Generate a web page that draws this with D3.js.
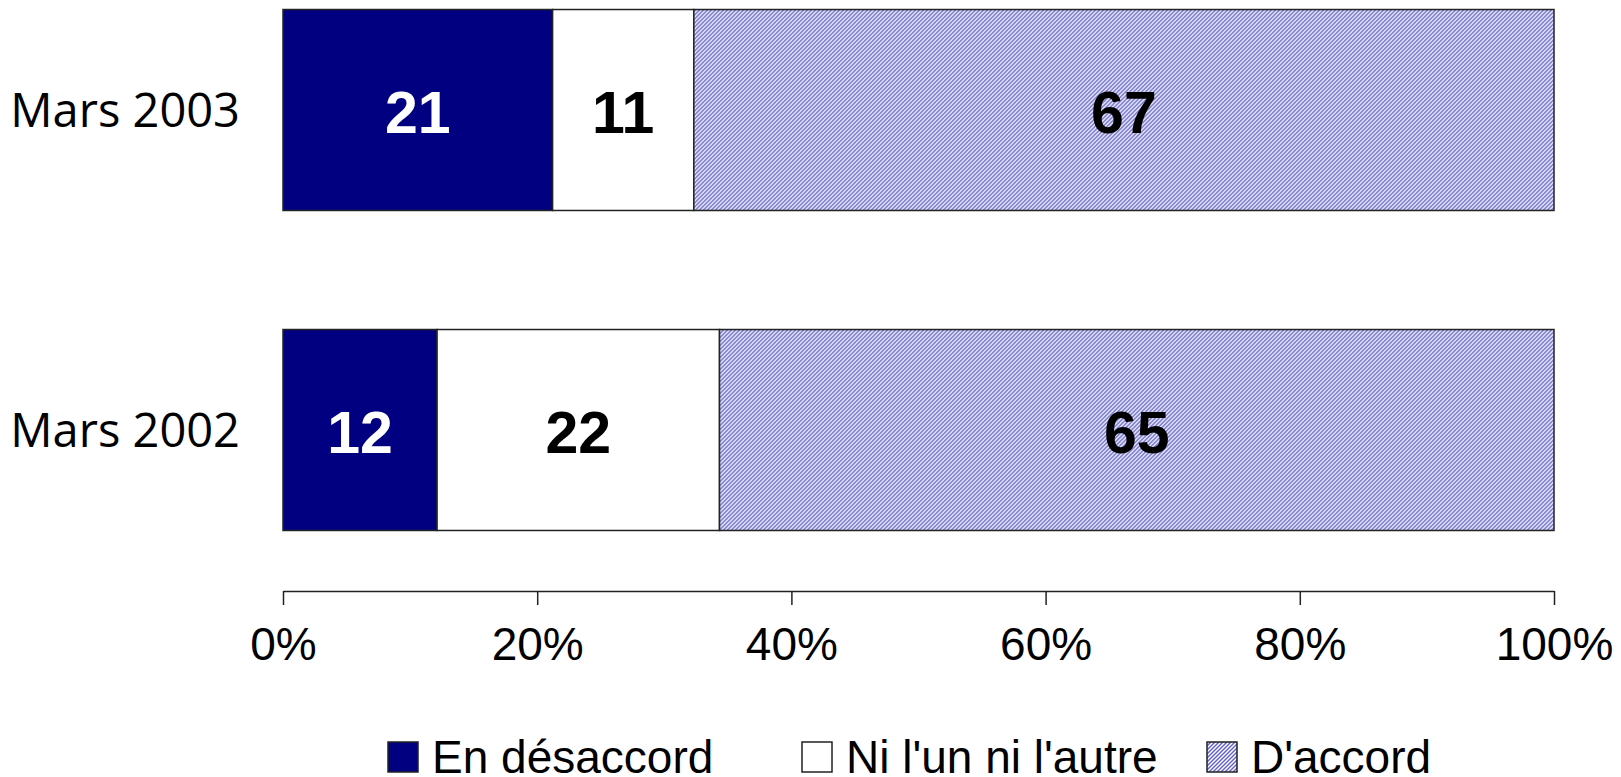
<!DOCTYPE html>
<html>
<head>
<meta charset="utf-8">
<script src="https://cdn.jsdelivr.net/npm/d3@7"></script>
<style>
  body { margin: 0; background: #fff; }
  svg { display: block; }
</style>
</head>
<body>
<script>
// données du graphique
var periodes = ["Mars 2003", "Mars 2002"];
var series = ["En désaccord", "Ni l'un ni l'autre", "D'accord"];
var desaccord = [21, 12];
var niUnNiAutre = [11, 22];
var accord = [67, 65];
var ticks = [0, 0.2, 0.4, 0.6, 0.8, 1];

var largeur = 1621, hauteur = 777;
var marge = { gauche: 283, droite: 67 };

var svg = d3.select("body").append("svg")
    .attr("width", largeur)
    .attr("height", hauteur);

// motif hachuré pour "D'accord"
var defs = svg.append("defs");
var motif = defs.append("pattern")
    .attr("id", "hachure")
    .attr("patternUnits", "userSpaceOnUse")
    .attr("width", 4)
    .attr("height", 4);
motif.append("rect").attr("width", 4).attr("height", 4).attr("fill", "#ffffff");
motif.append("path")
    .attr("d", "M-1,1 L1,-1 M0,4 L4,0 M3,5 L5,3")
    .attr("stroke", "#6464c8")
    .attr("stroke-width", 1.5);

var couleurs = ["#000080", "#ffffff", "url(#hachure)"];
var couleursTexte = ["#ffffff", "#000000", "#000000"];

// tableau empilé normalisé
var lignes = periodes.map(function(p, i) {
    return { periode: p, valeurs: [desaccord[i], niUnNiAutre[i], accord[i]] };
});

var x = d3.scaleLinear().domain([0, 1]).range([marge.gauche, largeur - marge.droite]);
var y = d3.scaleBand().domain(periodes).range([-50, 590])
    .paddingInner(0.372).paddingOuter(0.186);

lignes.forEach(function(l) {
    var total = d3.sum(l.valeurs);
    var cumul = 0;
    l.segments = l.valeurs.map(function(v, k) {
        var s = { serie: k, valeur: v, x0: cumul / total, x1: (cumul + v) / total };
        cumul += v;
        return s;
    });
});

var groupes = svg.selectAll("g.ligne")
    .data(lignes)
    .enter().append("g")
    .attr("class", "ligne")
    .attr("transform", function(d) { return "translate(0," + y(d.periode) + ")"; });

groupes.selectAll("rect")
    .data(function(d) { return d.segments; })
    .enter().append("rect")
    .attr("x", function(d) { return x(d.x0); })
    .attr("width", function(d) { return x(d.x1) - x(d.x0); })
    .attr("height", y.bandwidth())
    .attr("fill", function(d) { return couleurs[d.serie]; })
    .attr("stroke", "#222")
    .attr("stroke-width", 1.5);

groupes.selectAll("text.valeur")
    .data(function(d) { return d.segments; })
    .enter().append("text")
    .attr("class", "valeur")
    .attr("x", function(d) { return (x(d.x0) + x(d.x1)) / 2; })
    .attr("y", y.bandwidth() / 2 + 2)
    .attr("dy", "0.36em")
    .attr("text-anchor", "middle")
    .attr("font-family", "Liberation Sans, Arial, sans-serif")
    .attr("font-weight", "bold")
    .attr("font-size", "59px")
    .attr("fill", function(d) { return couleursTexte[d.serie]; })
    .text(function(d) { return d.valeur; });

// étiquettes des catégories
svg.selectAll("text.categorie")
    .data(periodes)
    .enter().append("text")
    .attr("class", "categorie")
    .attr("x", 240)
    .attr("y", function(d) { return y(d) + y.bandwidth() / 2; })
    .attr("dy", "0.36em")
    .attr("text-anchor", "end")
    .attr("font-family", "Open Sans, Noto Sans, sans-serif")
    .attr("font-size", "47px")
    .attr("fill", "#000")
    .text(function(d) { return d; });

// axe des x
var axe = svg.append("g")
    .attr("transform", "translate(0,591)")
    .call(d3.axisBottom(x).tickValues(ticks).tickFormat(d3.format(".0%"))
        .tickSize(14).tickSizeOuter(0).tickPadding(22));
axe.select(".domain").attr("stroke", "#222").attr("stroke-width", 1.5);
axe.selectAll(".tick line").attr("stroke", "#222").attr("stroke-width", 1.5);
axe.selectAll(".tick text")
    .attr("font-family", "Liberation Sans, Arial, sans-serif")
    .attr("font-size", "46px")
    .attr("fill", "#000");

// légende
var positionsLegende = [388, 802, 1207];
var legende = svg.selectAll("g.legende")
    .data(series)
    .enter().append("g")
    .attr("class", "legende")
    .attr("transform", function(d, i) { return "translate(" + positionsLegende[i] + ",742)"; });

legende.append("rect")
    .attr("width", 30)
    .attr("height", 30)
    .attr("fill", function(d, i) { return couleurs[i]; })
    .attr("stroke", "#222")
    .attr("stroke-width", 1.5);

legende.append("text")
    .attr("x", 44)
    .attr("y", 31)
    .attr("font-family", "Liberation Sans, Arial, sans-serif")
    .attr("font-size", "46px")
    .attr("fill", "#000")
    .text(function(d) { return d; });
</script>
</body>
</html>
